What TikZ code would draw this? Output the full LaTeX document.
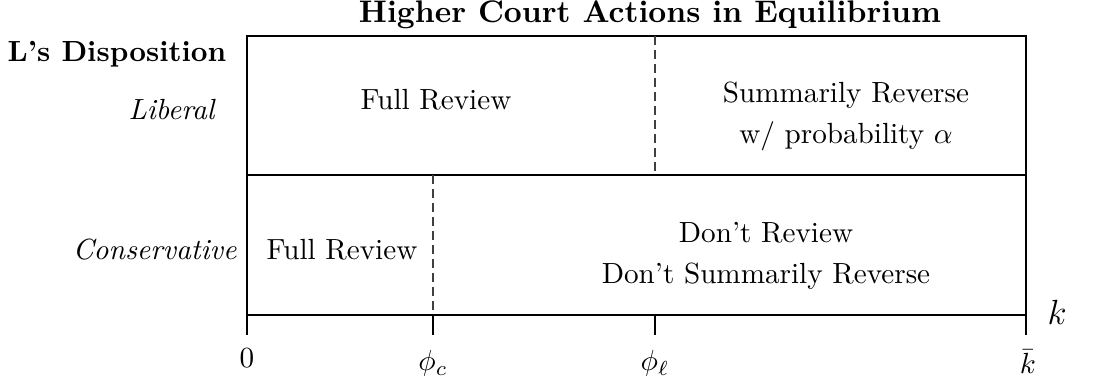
\documentclass[tikz,border=0pt]{standalone}
\begin{document}
\begin{tikzpicture}[x=0.343pt,y=-0.343pt,
  boxline/.style={line width=0.45pt},
  divline/.style={line width=0.4pt, dash pattern=on 3pt off 1.8pt, black!75},
  tickline/.style={line width=0.8pt},
  lbl/.style={inner sep=0pt, font=\normalsize},
  cell/.style={inner sep=0pt, align=center, font=\normalsize}]
\useasboundingbox (0,0) rectangle (1111,385);
% frame coordinates
\coordinate (tl) at (247,36);
\coordinate (tr) at (1026,36);
\coordinate (ml) at (247,175);
\coordinate (mr) at (1026,175);
\coordinate (bl) at (247,315);
\coordinate (br) at (1026,315);
\coordinate (pct) at (433,175);
\coordinate (pcb) at (433,315);
\coordinate (plt) at (655,36);
\coordinate (plb) at (655,175);
\coordinate (plx) at (655,315);
\coordinate (t0) at (247,335);
\coordinate (tc) at (433,335);
\coordinate (tl2) at (655,335);
\coordinate (tk) at (1026,335);
% frame
\draw[boxline] (tl) -- (tr) -- (br) -- (bl) -- cycle;
\draw[boxline] (ml) -- (mr);
\draw[divline] (plt) -- (plb);
\draw[divline] (pct) -- (pcb);
% ticks
\draw[tickline] (bl) -- (t0);
\draw[tickline] (pcb) -- (tc);
\draw[tickline] (plx) -- (tl2);
\draw[tickline] (br) -- (tk);
% labels
\node[lbl, anchor=base] (title) at (650,23) {\fontsize{10.7}{13}\selectfont\bfseries Higher Court Actions in Equilibrium};
\node[lbl, anchor=base] (disp) at (117,62) {\bfseries L's Disposition};
\node[lbl, anchor=base east] (lib) at (215,120) {\itshape Liberal};
\node[lbl, anchor=base east] (con) at (237,260) {\itshape Conservative};
\node[lbl, anchor=base] (fr1) at (436,110) {Full Review};
\node[cell] (sr) at (846,116) {Summarily Reverse\\[2pt] w/ probability $\alpha$};
\node[lbl, anchor=base] (fr2) at (342,260) {Full Review};
\node[cell] (dr) at (766,256) {Don't Review\\[2pt] Don't Summarily Reverse};
\node[lbl, anchor=base] (klab) at (1057,325) {\large $k$};
\node[lbl, anchor=base] (z) at (247,368) {$0$};
\node[lbl, anchor=base] (phic) at (433,371) {$\phi_c$};
\node[lbl, anchor=base] (phil) at (655,371) {$\phi_\ell$};
\node[lbl, anchor=base] (kb) at (1028,374) {$\bar{k}$};
\end{tikzpicture}
\end{document}
